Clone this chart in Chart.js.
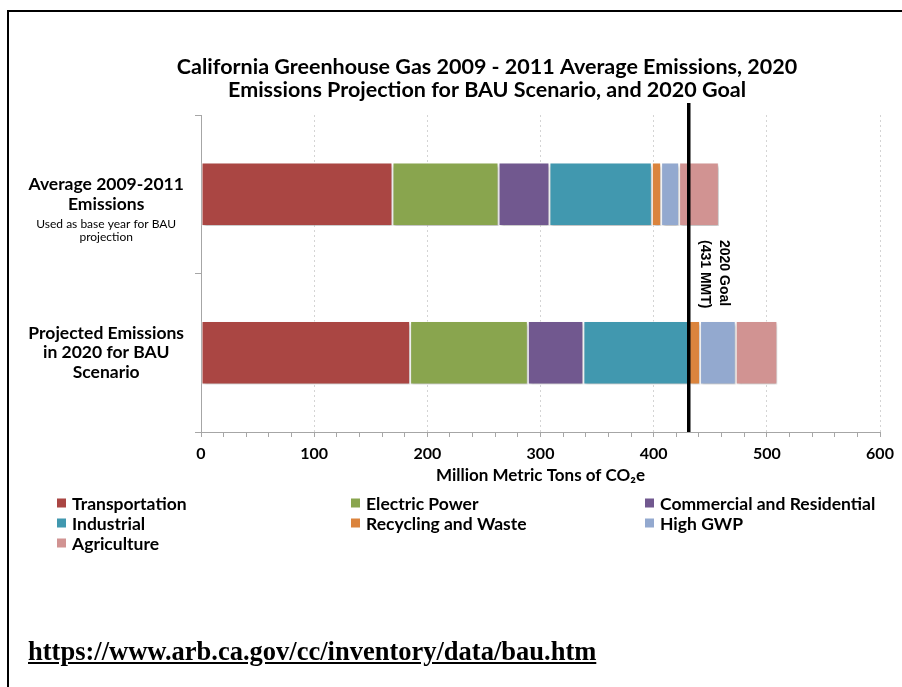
<!DOCTYPE html>
<html>
<head>
<meta charset="utf-8">
<script src="https://cdn.jsdelivr.net/npm/chart.js@4.4.1/dist/chart.umd.min.js"></script>
<style>
    html, body { margin: 0; padding: 0; background: #fff; }
    body { width: 902px; height: 687px; position: relative; overflow: hidden; }
    #frame { position: absolute; left: 7px; top: 10px; right: -10px; bottom: -10px; border-left: 2px solid #000; border-top: 2px solid #000; }
    #wrap { position: absolute; left: 0; top: 0; width: 902px; height: 687px; }
    #src { position: absolute; left: 28px; top: 636px; font: bold 26.5px "Liberation Serif", "Times New Roman", serif; text-decoration: underline; color: #000; white-space: nowrap; }
</style>
</head>
<body>
<div id="frame"></div>
<div id="wrap"><canvas id="ghg-chart"></canvas></div>
<div id="src">https://www.arb.ca.gov/cc/inventory/data/bau.htm</div>
<script>
// 資料 (MMTCO2e)
const chartTitle = ['California Greenhouse Gas 2009 - 2011 Average Emissions, 2020',
                    'Emissions Projection for BAU Scenario, and 2020 Goal'];
const categories = [['Average 2009-2011', 'Emissions'], ['Projected Emissions', 'in 2020 for BAU', 'Scenario']];
const categoryNotes = [['Used as base year for BAU', 'projection'], []];
const sectors = ['Transportation', 'Electric Power', 'Commercial and Residential', 'Industrial', 'Recycling and Waste', 'High GWP', 'Agriculture'];
const sectorColors = ['#AA4643', '#89A54E', '#71588F', '#4198AF', '#DB843D', '#93A9CF', '#D19392'];
const transportation = [169.2, 184.8];
const electricPower = [93.7, 104.0];
const commercialResidential = [45.0, 49.1];
const industrial = [90.5, 93.4];
const recyclingWaste = [8.2, 9.7];
const highGWP = [15.9, 31.5];
const agriculture = [35.1, 36.8];
const goalValue = 431;
const goalLabel = ['2020 Goal', '(431 MMT)'];
const xMin = 0, xMax = 600, xMajorStep = 100, xMinorStep = 20;

const seriesValues = [transportation, electricPower, commercialResidential, industrial, recyclingWaste, highGWP, agriculture];

const labelFont = { family: 'Lato', size: 17.5, weight: 'bold', lineHeight: 1.13 };
const yTickPadding = 11;
const yTickLength = 6;

// 標題 (置中於 x=487)
const titlePlugin = {
    id: 'titlePlugin',
    afterDraw(chart) {
        const ctx = chart.ctx;
        ctx.save();
        ctx.font = 'bold 21.5px Lato';
        ctx.fillStyle = '#000';
        ctx.textAlign = 'center';
        ctx.textBaseline = 'middle';
        chartTitle.forEach((t, i) => ctx.fillText(t, 487, 67 + i * 23));
        ctx.restore();
    }
};

// 柱狀陰影
const barShadow = {
    id: 'barShadow',
    beforeDatasetsDraw(chart) {
        const c = chart.ctx;
        c.save();
        c.shadowColor = 'rgba(0,0,0,0.3)';
        c.shadowBlur = 3;
        c.shadowOffsetX = 1;
        c.shadowOffsetY = 2;
    },
    afterDatasetsDraw(chart) {
        chart.ctx.restore();
    }
};

// 2020 目標線
const goalLine = {
    id: 'goalLine',
    afterDraw(chart) {
        const { ctx, chartArea } = chart;
        const x = chart.scales.x.getPixelForValue(goalValue);
        ctx.save();
        ctx.strokeStyle = '#000';
        ctx.lineWidth = 3.5;
        ctx.beginPath();
        ctx.moveTo(x, chartArea.top - 12);
        ctx.lineTo(x, chartArea.bottom);
        ctx.stroke();

        ctx.translate(x, 240);
        ctx.rotate(Math.PI / 2);
        ctx.font = 'bold 14px "Liberation Sans", Arial, sans-serif';
        ctx.fillStyle = '#000';
        ctx.textAlign = 'left';
        ctx.textBaseline = 'middle';
        ctx.fillText(goalLabel[0], 0, -35);
        ctx.fillText(goalLabel[1], 0, -16);
        ctx.restore();
    }
};

// 類別下方的小字說明
const categoryNote = {
    id: 'categoryNote',
    afterDraw(chart) {
        const { ctx } = chart;
        const scale = chart.scales.y;
        ctx.save();
        ctx.font = 'bold ' + labelFont.size + 'px Lato';
        let widest = 0;
        categories.flat().forEach(t => { widest = Math.max(widest, ctx.measureText(t).width); });
        const cx = scale.right - yTickLength - yTickPadding - widest / 2;
        ctx.font = '12px Lato';
        ctx.fillStyle = '#000';
        ctx.textAlign = 'center';
        ctx.textBaseline = 'middle';
        categoryNotes.forEach((lines, i) => {
            const y0 = scale.getPixelForValue(i) + 30;
            lines.forEach((t, j) => ctx.fillText(t, cx, y0 + j * 12.5));
        });
        ctx.restore();
    }
};

// 三欄圖例
const legendGrid = {
    id: 'legendGrid',
    afterDraw(chart) {
        const ctx = chart.ctx;
        ctx.save();
        ctx.font = 'bold 17.5px Lato';
        ctx.textBaseline = 'middle';
        ctx.textAlign = 'left';
        chart.data.datasets.forEach((ds, i) => {
            const col = i % 3, row = Math.floor(i / 3);
            const x = 57 + col * 294, y = 503 + row * 20;
            ctx.fillStyle = ds.backgroundColor;
            ctx.fillRect(x, y - 4.5, 9, 9);
            ctx.fillStyle = '#000';
            ctx.fillText(ds.label, x + 15, y + 1);
        });
        ctx.restore();
    }
};

const datasets = sectors.map((name, i) => ({
    label: name,
    data: seriesValues[i],
    backgroundColor: sectorColors[i],
    borderColor: 'rgba(255,255,255,0.55)',
    borderWidth: 1,
    borderSkipped: false,
    barPercentage: 0.4,
    categoryPercentage: 1.0
}));

new Chart(document.getElementById('ghg-chart'), {
    type: 'bar',
    data: { labels: categories, datasets: datasets },
    plugins: [titlePlugin, barShadow, goalLine, categoryNote, legendGrid],
    options: {
        indexAxis: 'y',
        responsive: true,
        maintainAspectRatio: false,
        animation: false,
        layout: { padding: { top: 115, left: 0, right: 22, bottom: 195 } },
        plugins: {
            legend: { display: false },
            tooltip: { enabled: false },
            title: { display: false }
        },
        scales: {
            x: {
                stacked: true,
                min: xMin,
                max: xMax,
                ticks: {
                    stepSize: xMinorStep,
                    autoSkip: false,
                    maxRotation: 0,
                    padding: 7,
                    color: '#000',
                    font: { family: 'Lato', size: 16, weight: 'bold' },
                    callback: v => (v % xMajorStep === 0 ? v : '')
                },
                grid: {
                    color: c => (c.tick && c.tick.value % xMajorStep === 0 ? '#d4d4d4' : 'rgba(0,0,0,0)'),
                    tickColor: '#a6a6a6',
                    tickLength: 5,
                    lineWidth: 1
                },
                border: { color: '#a6a6a6', dash: [2, 3] },
                title: {
                    display: true,
                    text: 'Million Metric Tons of CO₂e',
                    color: '#000',
                    font: { family: 'Lato', size: 17, weight: 'bold' },
                    padding: { top: 2, bottom: 6 }
                },
                afterFit(scale) { scale.height = 60; }
            },
            y: {
                stacked: true,
                grid: { offset: true, drawOnChartArea: false, tickLength: yTickLength, color: '#a6a6a6' },
                border: { color: '#a6a6a6' },
                ticks: {
                    crossAlign: 'center',
                    padding: yTickPadding,
                    color: '#000',
                    font: labelFont
                },
                afterFit(scale) { scale.width = 201; }
            }
        }
    }
});
</script>
</body>
</html>
